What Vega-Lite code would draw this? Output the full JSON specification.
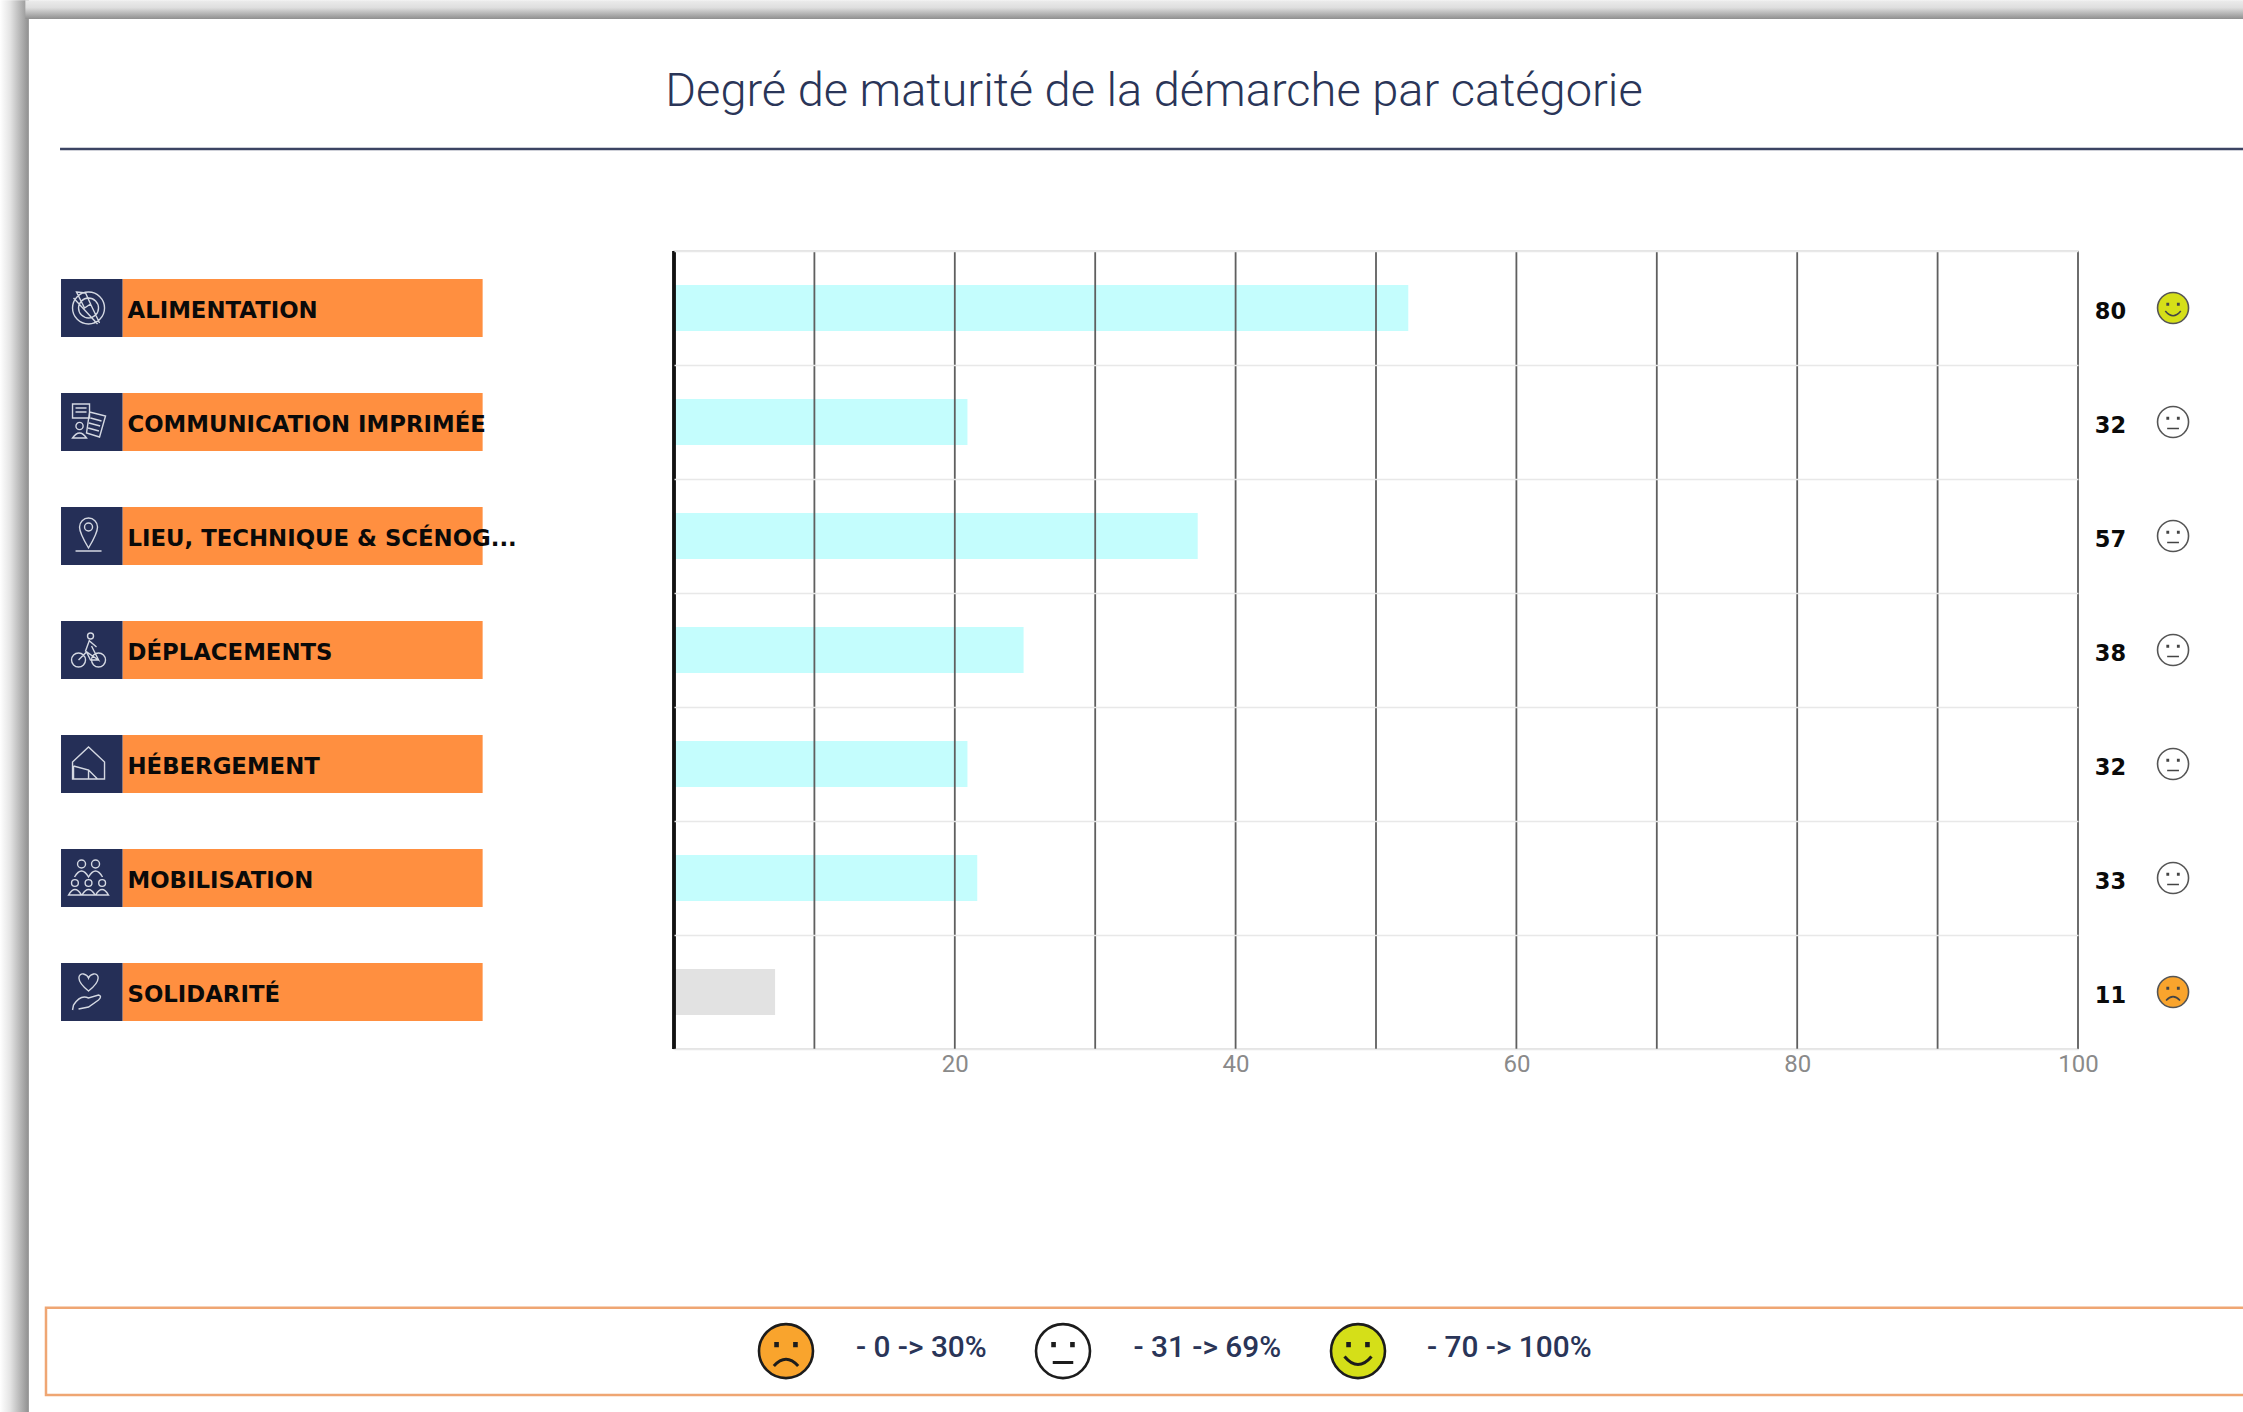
{
"$schema":"https://vega.github.io/schema/vega-lite/v6.json",
"autosize":{"type":"none"},
"padding":{"left":674,"top":251,"right":165,"bottom":363},
"width":1404,"height":798,
"background":"white",
"config":{"view":{"stroke":"#dcdcdc","strokeWidth":1.5}},
"title":{"text":"Degré de maturité de la démarche par catégorie","anchor":"middle","dx":-222,"offset":-116,"font":"Roboto","fontWeight":300,"fontSize":47,"color":"#2a3558"},
"datasets":{
"rows":[
{"cat":"ALIMENTATION","bar":52.3,"score":80,"mood":"happy"},
{"cat":"COMMUNICATION IMPRIMÉE","bar":20.9,"score":32,"mood":"neutral"},
{"cat":"LIEU, TECHNIQUE & SCÉNOG...","bar":37.3,"score":57,"mood":"neutral"},
{"cat":"DÉPLACEMENTS","bar":24.9,"score":38,"mood":"neutral"},
{"cat":"HÉBERGEMENT","bar":20.9,"score":32,"mood":"neutral"},
{"cat":"MOBILISATION","bar":21.6,"score":33,"mood":"neutral"},
{"cat":"SOLIDARITÉ","bar":7.2,"score":11,"mood":"sad"}],
"key":[
{"mood":"sad","from":0,"label":"- 0 -> 30%"},
{"mood":"neutral","from":31,"label":"- 31 -> 69%"},
{"mood":"happy","from":70,"label":"- 70 -> 100%"}],
"grid":[{"v":10},{"v":20},{"v":30},{"v":40},{"v":50},{"v":60},{"v":70},{"v":80},{"v":90},{"v":100}],
"one":[{"id":1}]
},
"layer":[
{"data":{"name":"one"},
 "layer":[
 {"mark":{"type":"rect","color":{"gradient":"linear","x1":0,"x2":1,"y1":0,"y2":0,"stops":[{"offset":0,"color":"#ffffff"},{"offset":0.35,"color":"#e4e4e4"},{"offset":1,"color":"#8f8f8f"}]}},
  "encoding":{"x":{"datum":-48.01,"type":"quantitative","scale":{"domain":[0,100],"nice":false,"zero":false},"axis":null},"x2":{"datum":-45.95},
  "y":{"datum":9.2,"type":"quantitative","scale":{"domain":[0,7],"nice":false,"zero":false},"axis":null},"y2":{"datum":-3.19}}},
 {"mark":{"type":"rect","color":{"gradient":"linear","x1":0,"x2":0,"y1":0,"y2":1,"stops":[{"offset":0,"color":"#ececec"},{"offset":0.4,"color":"#dedede"},{"offset":1,"color":"#8f8f8f"}]}},
  "encoding":{"x":{"datum":-46.2,"type":"quantitative","axis":null},"x2":{"datum":112},
  "y":{"datum":9.2,"type":"quantitative","axis":null},"y2":{"datum":9.035}}},
 {"mark":{"type":"rule","color":"#3c4463","strokeWidth":2.6},
  "encoding":{"x":{"datum":-43.73,"type":"quantitative","axis":null},"x2":{"datum":112},"y":{"datum":7.895,"type":"quantitative","axis":null}}},
 {"mark":{"type":"rect","fill":"transparent","stroke":"#EFA673","strokeWidth":2.5},
  "encoding":{"x":{"datum":-44.73,"type":"quantitative","axis":null},"x2":{"datum":112},"y":{"datum":-2.27,"type":"quantitative","axis":null},"y2":{"datum":-3.035}}}
 ]},
{"data":{"name":"rows"},
 "encoding":{"y":{"field":"cat","type":"nominal","sort":null,"scale":{"type":"band","paddingInner":0,"paddingOuter":0,"domain":["ALIMENTATION","COMMUNICATION IMPRIMÉE","LIEU, TECHNIQUE & SCÉNOG...","DÉPLACEMENTS","HÉBERGEMENT","MOBILISATION","SOLIDARITÉ"]},
 "axis":{"title":null,"ticks":false,"domain":false,"grid":true,"gridColor":"#e8e8e8","gridWidth":1.5,"tickBand":"extent","labelAlign":"left","labelBaseline":"middle","labelPadding":547,"labelLimit":600,"labelFont":"DejaVu Sans","labelFontWeight":"bold","labelFontSize":22.8,"labelColor":"#0a0a0a","labelOffset":2,"zindex":1}}},
 "layer":[
 {"mark":{"type":"bar","size":58,"color":"#FF8F40"},
  "encoding":{"x":{"datum":-39.28,"type":"quantitative","scale":{"domain":[0,100],"nice":false,"zero":false},"axis":{"values":[20,40,60,80,100],"grid":false,"ticks":false,"domain":false,"title":null,"labelFont":"Roboto","labelFontWeight":400,"labelFontSize":24,"labelColor":"#8a8a8a","labelPadding":3,"labelFlush":false,"labelOverlap":false}},"x2":{"datum":-13.63}}},
 {"mark":{"type":"bar","size":58,"color":"#252F57"},
  "encoding":{"x":{"datum":-43.66,"type":"quantitative"},"x2":{"datum":-39.28}}},
 {"mark":{"type":"point","filled":false,"size":1600,"opacity":1,"strokeWidth":1.4,"color":"#d4d8e2"},
  "encoding":{"x":{"datum":-41.7,"type":"quantitative"},
  "shape":{"field":"cat","type":"nominal","legend":null,"scale":{"domain":["ALIMENTATION","COMMUNICATION IMPRIMÉE","LIEU, TECHNIQUE & SCÉNOG...","DÉPLACEMENTS","HÉBERGEMENT","MOBILISATION","SOLIDARITÉ"],"range":[
  "M-.8,0 A.8,.8 0 1,1 .8,0 A.8,.8 0 1,1 -.8,0 Z M-.5,0 A.5,.5 0 1,1 .5,0 A.5,.5 0 1,1 -.5,0 Z M-.6,-.8 L-.15,-.75 L.1,-.2 L-.2,0 Z M.1,-.2 L.55,.75 M-.75,-.5 L.45,.8",
  "M-.8,-.9 H.05 V-.2 H-.8 Z M-.65,-.7 H-.1 M-.65,-.5 H-.1 M-.63,.2 A.18,.18 0 1,1 -.27,.2 A.18,.18 0 1,1 -.63,.2 Z M-.8,.8 Q-.45,.3 -.1,.8 Z M.05,-.5 L.85,-.3 L.55,.75 L-.1,.55 Z M.1,-.2 L.65,-.05 M.02,.05 L.58,.2 M-.02,.3 L.52,.45",
  "M0,.6 C-.3,.1 -.45,-.2 -.45,-.45 A.45,.45 0 1,1 .45,-.45 C.45,-.2 .3,.1 0,.6 Z M-.2,-.45 A.2,.2 0 1,1 .2,-.45 A.2,.2 0 1,1 -.2,-.45 Z M-.65,.75 H.65",
  "M-.85,.5 A.35,.35 0 1,1 -.15,.5 A.35,.35 0 1,1 -.85,.5 Z M.15,.5 A.35,.35 0 1,1 .85,.5 A.35,.35 0 1,1 .15,.5 Z M-.5,.5 L-.1,.1 L.5,.5 L.15,-.2 M-.1,.1 L.1,.5 L.5,.5 M-.05,-.7 A.15,.15 0 1,1 .25,-.7 A.15,.15 0 1,1 -.05,-.7 Z M.05,-.5 L-.15,.05 L.2,.3 M.05,-.45 L.4,-.15",
  "M-.8,-.1 L0,-.85 L.8,-.1 L.8,.75 H-.8 Z M-.75,.1 L.0,.3 L0,.75 M-.75,.1 V.75 M0,.3 L.45,.75",
  "M-.55,-.7 A.2,.2 0 1,1 -.15,-.7 A.2,.2 0 1,1 -.55,-.7 Z M.15,-.7 A.2,.2 0 1,1 .55,-.7 A.2,.2 0 1,1 .15,-.7 Z M-.7,-.05 Q-.35,-.65 0,-.05 Q.35,-.65 .7,-.05 M-.85,.25 A.17,.17 0 1,1 -.51,.25 A.17,.17 0 1,1 -.85,.25 Z M-.17,.25 A.17,.17 0 1,1 .17,.25 A.17,.17 0 1,1 -.17,.25 Z M.51,.25 A.17,.17 0 1,1 .85,.25 A.17,.17 0 1,1 .51,.25 Z M-1,.85 Q-.68,.3 -.35,.85 Z M-.33,.85 Q0,.3 .33,.85 Z M.35,.85 Q.68,.3 1,.85 Z",
  "M0,-.05 C-.7,-.6 -.5,-.95 -.25,-.9 Q-.05,-.85 0,-.7 Q.05,-.85 .25,-.9 C.5,-.95 .7,-.6 0,-.05 Z M-.75,.65 Q-.4,.1 0,.3 L.5,.15 Q.7,.2 .5,.4 L0,.75 L-.5,.85 M-.75,.65 L-.8,.9"]}}}},
 {"mark":{"type":"bar","size":46},
  "encoding":{"x":{"field":"bar","type":"quantitative"},"color":{"field":"mood","type":"nominal","legend":null,"scale":{"domain":["sad","neutral","happy"],"range":["#E2E2E2","#C4FDFD","#C4FDFD"]}}}},
 {"data":{"name":"grid"},"mark":{"type":"rule","color":"#5f5f5f","strokeWidth":1.8},"encoding":{"x":{"field":"v","type":"quantitative"},"y":{}}},
 {"mark":{"type":"rule","color":"#111111","strokeWidth":2.6},"encoding":{"x":{"datum":0,"type":"quantitative"},"y":{}}},
 {"mark":{"type":"text","align":"left","baseline":"middle","dy":4,"font":"DejaVu Sans","fontWeight":"bold","fontSize":22.5,"color":"#0a0a0a"},
  "encoding":{"x":{"datum":101.2,"type":"quantitative"},"text":{"field":"score","type":"quantitative"}}}
 ],
 "resolve":{"scale":{"shape":"independent","color":"independent"}}},
{"data":{"name":"rows"},
 "encoding":{"y":{"field":"cat","type":"nominal","sort":null,"scale":{"type":"band","paddingInner":0,"paddingOuter":0,"domain":["ALIMENTATION","COMMUNICATION IMPRIMÉE","LIEU, TECHNIQUE & SCÉNOG...","DÉPLACEMENTS","HÉBERGEMENT","MOBILISATION","SOLIDARITÉ"]},"axis":null},
 "x":{"datum":106.77,"type":"quantitative","scale":{"domain":[0,100],"nice":false,"zero":false},"axis":null}},
 "layer":[
 {"mark":{"type":"point","filled":true,"size":961,"opacity":1,"stroke":"#555555","strokeWidth":1.6},
  "encoding":{"fill":{"field":"mood","type":"nominal","legend":null,"scale":{"domain":["sad","neutral","happy"],"range":["#F9A42D","#ffffff","#D5DF18"]}}}},
 {"mark":{"type":"point","filled":false,"size":961,"opacity":1,"color":"#444444","strokeWidth":1.6},
  "encoding":{"shape":{"field":"mood","type":"nominal","legend":null,"scale":{"domain":["sad","neutral","happy"],"range":[
  "M-.38,-.28 L-.3,-.28 L-.3,-.2 L-.38,-.2 Z M.3,-.28 L.38,-.28 L.38,-.2 L.3,-.2 Z M-.45,.55 Q0,.05 .45,.55",
  "M-.38,-.28 L-.3,-.28 L-.3,-.2 L-.38,-.2 Z M.3,-.28 L.38,-.28 L.38,-.2 L.3,-.2 Z M-.38,.42 L.38,.42",
  "M-.38,-.28 L-.3,-.28 L-.3,-.2 L-.38,-.2 Z M.3,-.28 L.38,-.28 L.38,-.2 L.3,-.2 Z M-.5,.2 Q0,.8 .5,.2"]}}}}
 ]},
{"data":{"name":"key"},
 "encoding":{"y":{"datum":-2.65,"type":"quantitative","scale":{"domain":[0,7],"nice":false,"zero":false},"axis":null},
 "x":{"field":"from","type":"quantitative","axis":null,"scale":{"domain":[0,31,70],"range":[112,389,684],"nice":false,"zero":false}}},
 "layer":[
 {"mark":{"type":"point","filled":true,"size":2916,"opacity":1,"stroke":"#1c1c1c","strokeWidth":2.6},
  "encoding":{"fill":{"field":"mood","type":"nominal","legend":null,"scale":{"domain":["sad","neutral","happy"],"range":["#F9A42D","#ffffff","#D5DF18"]}}}},
 {"mark":{"type":"point","filled":false,"size":2916,"opacity":1,"color":"#1c1c1c","strokeWidth":3},
  "encoding":{"shape":{"field":"mood","type":"nominal","legend":null,"scale":{"domain":["sad","neutral","happy"],"range":[
  "M-.38,-.28 L-.32,-.28 L-.32,-.2 L-.38,-.2 Z M.32,-.28 L.38,-.28 L.38,-.2 L.32,-.2 Z M-.45,.55 Q0,.05 .45,.55",
  "M-.38,-.28 L-.32,-.28 L-.32,-.2 L-.38,-.2 Z M.32,-.28 L.38,-.28 L.38,-.2 L.32,-.2 Z M-.38,.42 L.38,.42",
  "M-.38,-.28 L-.32,-.28 L-.32,-.2 L-.38,-.2 Z M.32,-.28 L.38,-.28 L.38,-.2 L.32,-.2 Z M-.5,.2 Q0,.8 .5,.2"]}}}},
 {"mark":{"type":"text","align":"left","baseline":"middle","font":"Roboto","fontWeight":500,"fontSize":29.8,"color":"#2a3558"},
  "encoding":{"x":{"field":"from","type":"quantitative","axis":null,"scale":{"domain":[0,31,70],"range":[182,459.5,753],"nice":false,"zero":false}},
  "y":{"datum":-2.62,"type":"quantitative"},"text":{"field":"label","type":"nominal"}}}
 ],
 "resolve":{"scale":{"x":"independent"}}}
],
"resolve":{"scale":{"x":"independent","y":"independent","shape":"independent","color":"independent","fill":"independent"},"axis":{"x":"independent","y":"independent"}}
}
